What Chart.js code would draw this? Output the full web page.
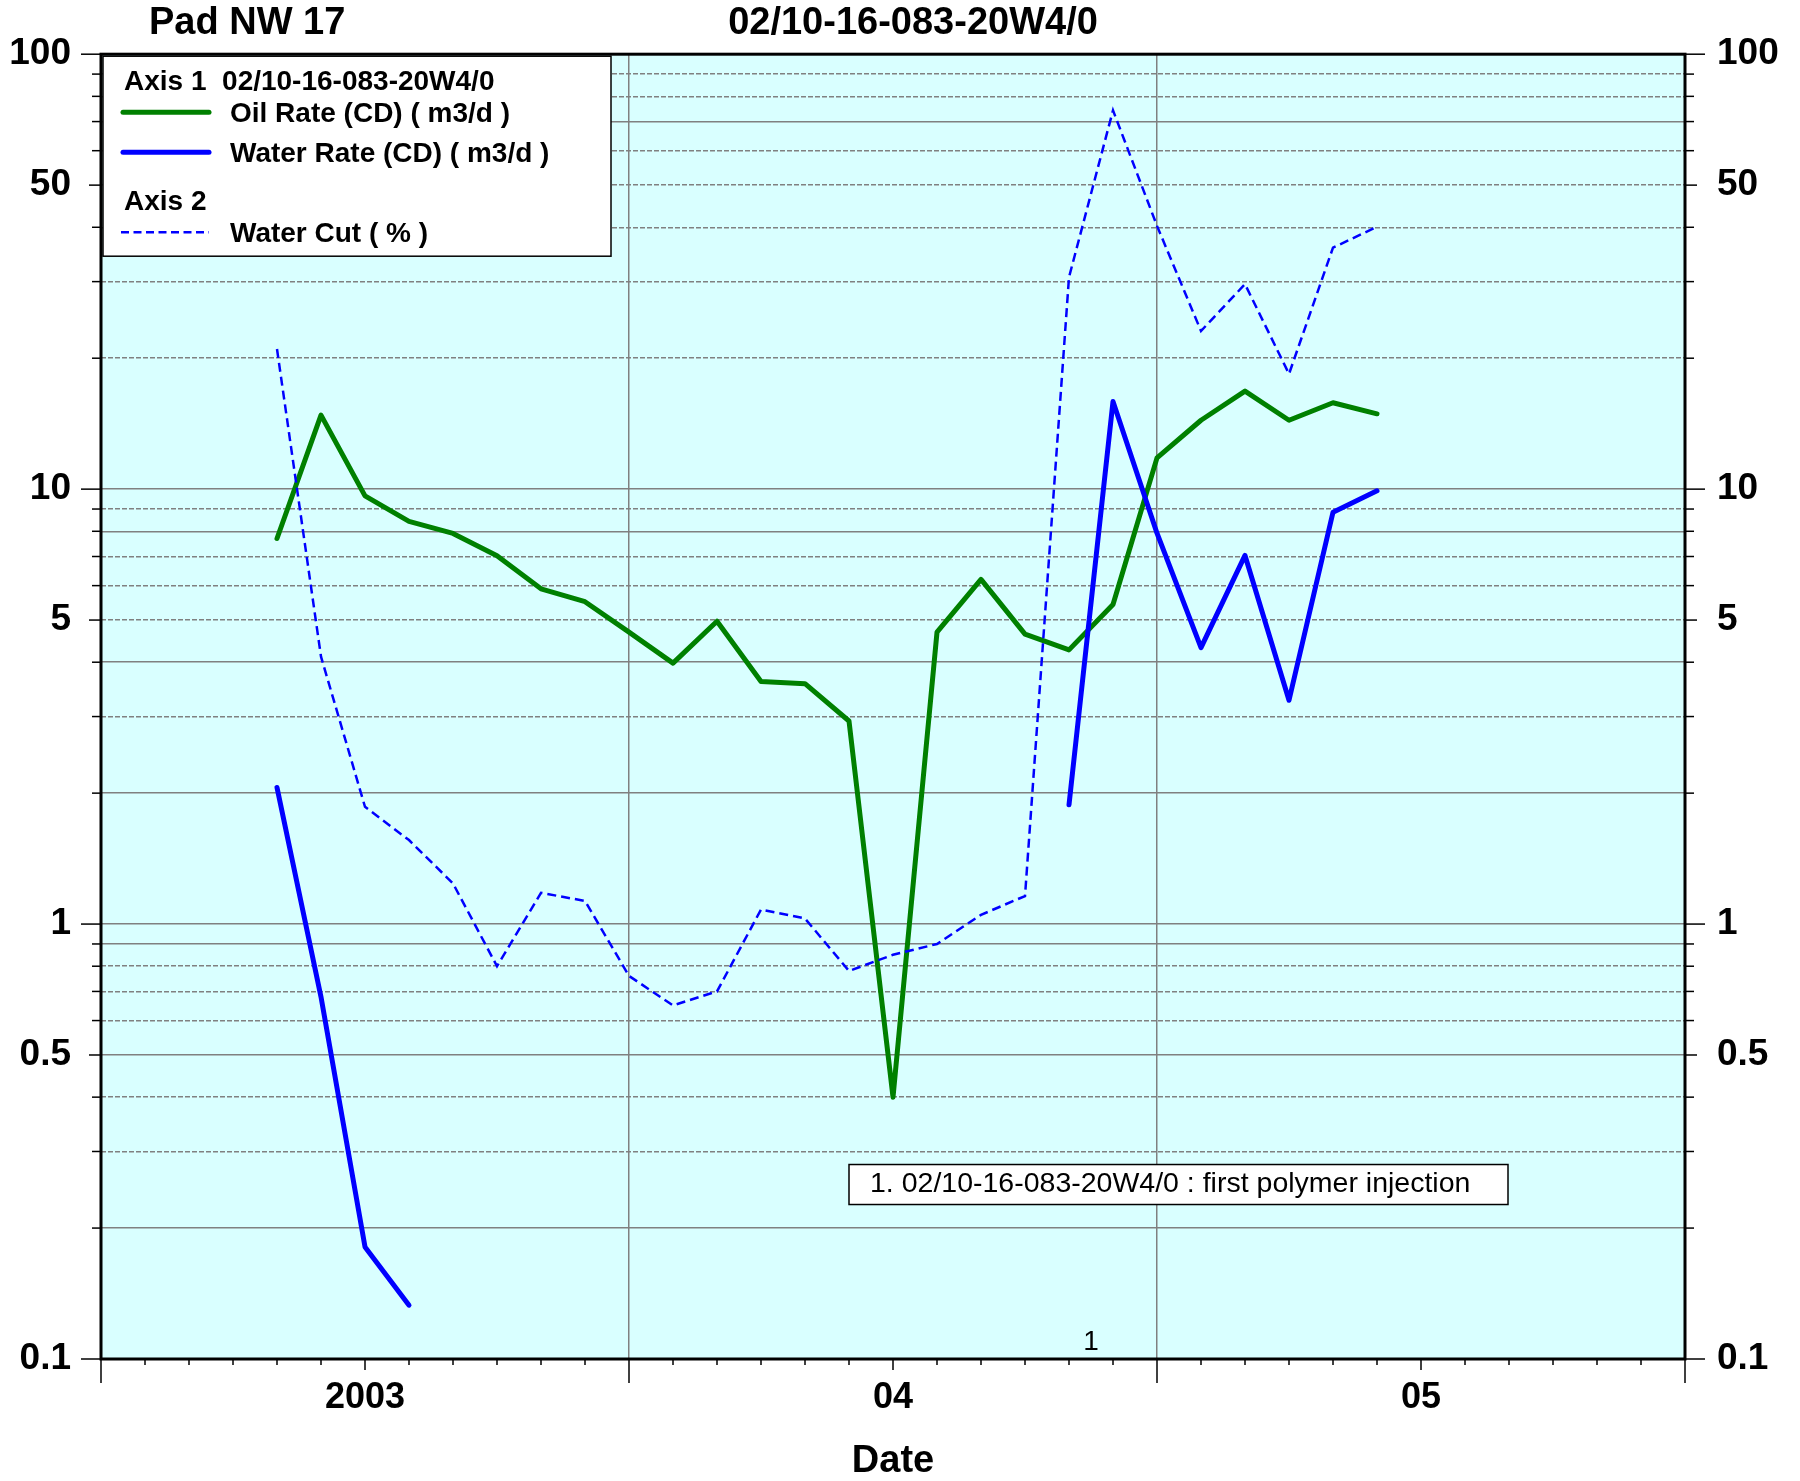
<!DOCTYPE html>
<html>
<head>
<meta charset="utf-8">
<title>Pad NW 17 - 02/10-16-083-20W4/0</title>
<script src="https://cdn.jsdelivr.net/npm/chart.js@4.4.1/dist/chart.umd.min.js"></script>
<style>
  html, body { margin: 0; padding: 0; background: #fff; }
  #chart { display: block; }
</style>
</head>
<body>
<canvas id="chart" width="1800" height="1481"></canvas>
<script>
'use strict';

// ── Data (monthly) ────────────────────────────────────────────────
const MONTHS = [
  '2002-11', '2002-12',
  '2003-01', '2003-02', '2003-03', '2003-04', '2003-05', '2003-06',
  '2003-07', '2003-08', '2003-09', '2003-10', '2003-11', '2003-12',
  '2004-01', '2004-02', '2004-03', '2004-04', '2004-05', '2004-06',
  '2004-07', '2004-08', '2004-09', '2004-10', '2004-11', '2004-12',
];

// Axis 1, m3/d
const OIL_RATE = [
  7.70, 14.8,
  9.65, 8.43, 7.91, 7.03, 5.90, 5.51,
  4.69, 3.98, 4.97, 3.61, 3.57, 2.93,
  0.40, 4.69, 6.20, 4.64, 4.27, 5.43,
  11.8, 14.4, 16.8, 14.4, 15.8, 14.9,
];
const WATER_RATE = [
  2.06, 0.68,
  0.181, 0.133, null, null, null, null,
  null, null, null, null, null, null,
  null, null, null, null, 1.88, 15.9,
  7.92, 4.32, 7.04, 3.27, 8.85, 9.91,
];

// Axis 2, %
const WATER_CUT = [
  21.0, 4.12,
  1.86, 1.56, 1.24, 0.80, 1.18, 1.13,
  0.76, 0.65, 0.70, 1.08, 1.03, 0.78,
  0.85, 0.90, 1.05, 1.16, 30.7, 74.3,
  40.3, 23.1, 29.6, 18.4, 35.9, 40.1,
];

const AXIS_START = '2002-07';
const AXIS_END   = '2005-07';
const X_LABELS   = { '2003-01': '2003', '2004-01': '04', '2005-01': '05' };

const Y_MIN = 0.1;
const Y_MAX = 100;
const Y_TICKS = [
  0.1, 0.2, 0.3, 0.4, 0.5, 0.6, 0.7, 0.8, 0.9,
  1, 2, 3, 4, 5, 6, 7, 8, 9,
  10, 20, 30, 40, 50, 60, 70, 80, 90, 100,
];
const Y_LABELS = [0.1, 0.5, 1, 5, 10, 50, 100];

const EVENT_MONTH = 22.5;   // mid May 2004, months after AXIS_START
const EVENT_LABEL = '1';
const EVENT_NOTE  = '1. 02/10-16-083-20W4/0 : first polymer injection';

// ── Styles / layout ──────────────────────────────────────────────
const FONT       = "'Liberation Sans', Arial, Helvetica, sans-serif";
const GREEN      = '#008000';
const BLUE       = '#0000ff';
const GRID_GRAY  = '#808080';
const PLOT_BG    = '#d9ffff';
const SOLID_GRID = [0.2, 0.5, 0.9, 1, 2, 4, 8, 10, 70];

const LAYOUT = {
  top: 53, leftAxis: 101, rightAxis: 115, bottomAxis: 122,
  legend: { dx: 2, dy: 2, w: 508, h: 200 },
  note:   { x: 17.0, y: 0.28, w: 659, h: 40 },
};

// ── Helpers ──────────────────────────────────────────────────────
function monthsFrom(start, ym) {
  const [y0, m0] = start.split('-').map(Number);
  const [y, m] = ym.split('-').map(Number);
  return (y - y0) * 12 + (m - m0);
}

const X_MAX = monthsFrom(AXIS_START, AXIS_END);

function points(values) {
  return MONTHS.map((m, i) => ({ x: monthsFrom(AXIS_START, m), y: values[i] }));
}

function xLabel(value) {
  const key = Object.keys(X_LABELS).find(k => monthsFrom(AXIS_START, k) === value);
  return key ? X_LABELS[key] : '';
}

function yLabel(value) {
  return Y_LABELS.includes(value) ? String(value) : '';
}

function line(ctx, x1, y1, x2, y2) {
  ctx.beginPath();
  ctx.moveTo(x1, y1);
  ctx.lineTo(x2, y2);
  ctx.stroke();
}

function yAxis(position, width, padding) {
  return {
    type: 'logarithmic',
    position,
    min: Y_MIN,
    max: Y_MAX,
    afterFit: s => { s.width = width; },
    afterBuildTicks: s => { s.ticks = Y_TICKS.map(v => ({ value: v })); },
    ticks: {
      autoSkip: false,
      padding,
      color: '#000',
      font: { family: FONT, size: 37, weight: 'bold' },
      callback: yLabel,
    },
    grid: {
      drawTicks: false,
      drawOnChartArea: position === 'left',
      lineWidth: 1.5,
      color: c => (c.tick && (c.tick.value === Y_MIN || c.tick.value === Y_MAX)) ? 'rgba(0,0,0,0)' : GRID_GRAY,
    },
    border: {
      display: false,
      dash: c => (c.tick && !SOLID_GRID.includes(c.tick.value)) ? [5, 2] : [],
    },
  };
}

// ── Decoration plugin: background, frame, tick marks, texts ──────
const decor = {
  id: 'decor',
  beforeDraw(chart) {
    const { ctx, chartArea: a } = chart;
    ctx.save();
    ctx.fillStyle = PLOT_BG;
    ctx.fillRect(a.left, a.top, a.right - a.left, a.bottom - a.top);
    ctx.restore();
  },
  afterDraw(chart) {
    const { ctx, chartArea: a, scales } = chart;
    const xs = scales.x, ys = scales.y;
    ctx.save();

    // tick marks
    ctx.strokeStyle = '#000';
    ctx.lineWidth = 1.5;
    for (let m = 0; m <= X_MAX; m++) {
      const px = xs.getPixelForValue(m);
      const len = m % 12 === 0 ? 24 : (m % 12 === 6 ? 11 : 6);
      line(ctx, px, a.bottom, px, a.bottom + len);
    }
    Y_TICKS.forEach(v => {
      const py = ys.getPixelForValue(v);
      const lead = Math.round(v / Math.pow(10, Math.floor(Math.log10(v) + 1e-9)));
      const len = lead === 1 ? 20 : (lead === 5 ? 12 : 9);
      line(ctx, a.left - len, py, a.left, py);
      line(ctx, a.right, py, a.right + len, py);
    });

    // frame
    ctx.lineWidth = 3;
    ctx.strokeRect(a.left, a.top, a.right - a.left, a.bottom - a.top);

    // titles
    ctx.fillStyle = '#000';
    ctx.textBaseline = 'middle';
    ctx.font = `bold 38px ${FONT}`;
    ctx.textAlign = 'left';
    ctx.fillText('Pad NW 17', 149, 24);
    ctx.textAlign = 'center';
    ctx.fillText('02/10-16-083-20W4/0', 913, 24);

    // event marker + note
    ctx.font = `28px ${FONT}`;
    ctx.fillText(EVENT_LABEL, xs.getPixelForValue(EVENT_MONTH), a.bottom - 17);
    const nx = xs.getPixelForValue(LAYOUT.note.x);
    const ny = ys.getPixelForValue(LAYOUT.note.y);
    ctx.fillStyle = '#fff';
    ctx.fillRect(nx, ny, LAYOUT.note.w, LAYOUT.note.h);
    ctx.lineWidth = 1.5;
    ctx.strokeRect(nx, ny, LAYOUT.note.w, LAYOUT.note.h);
    ctx.fillStyle = '#000';
    ctx.textAlign = 'left';
    ctx.font = `28.5px ${FONT}`;
    ctx.fillText(EVENT_NOTE, nx + 21, ny + LAYOUT.note.h / 2);

    // legend
    const L = LAYOUT.legend;
    const lx = a.left + L.dx, ly = a.top + L.dy;
    ctx.fillStyle = '#fff';
    ctx.fillRect(lx, ly, L.w, L.h);
    ctx.lineWidth = 1.5;
    ctx.strokeRect(lx, ly, L.w, L.h);
    ctx.fillStyle = '#000';
    ctx.font = `bold 28px ${FONT}`;
    ctx.fillText('Axis 1  02/10-16-083-20W4/0', lx + 21, ly + 26);
    ctx.fillText('Oil Rate (CD) ( m3/d )', lx + 127, ly + 58);
    ctx.fillText('Water Rate (CD) ( m3/d )', lx + 127, ly + 98);
    ctx.fillText('Axis 2', lx + 21, ly + 146);
    ctx.fillText('Water Cut ( % )', lx + 127, ly + 178);
    ctx.lineCap = 'round';
    ctx.lineWidth = 5;
    ctx.strokeStyle = GREEN;
    line(ctx, lx + 20, ly + 56, lx + 106, ly + 56);
    ctx.strokeStyle = BLUE;
    line(ctx, lx + 20, ly + 96, lx + 106, ly + 96);
    ctx.lineCap = 'butt';
    ctx.lineWidth = 2.5;
    ctx.setLineDash([8, 4.5]);
    line(ctx, lx + 18, ly + 176, lx + 106, ly + 176);
    ctx.restore();
  },
};

// ── Chart ────────────────────────────────────────────────────────
new Chart(document.getElementById('chart').getContext('2d'), {
  type: 'line',
  data: {
    datasets: [
      {
        label: 'Water Rate (CD) ( m3/d )',
        data: points(WATER_RATE),
        yAxisID: 'y',
        borderColor: BLUE,
        borderWidth: 5,
        borderCapStyle: 'round',
        borderJoinStyle: 'round',
        spanGaps: false,
      },
      {
        label: 'Water Cut ( % )',
        data: points(WATER_CUT),
        yAxisID: 'y2',
        borderColor: BLUE,
        borderWidth: 2.5,
        borderDash: [9, 5],
      },
      {
        label: 'Oil Rate (CD) ( m3/d )',
        data: points(OIL_RATE),
        yAxisID: 'y',
        borderColor: GREEN,
        borderWidth: 5,
        borderCapStyle: 'round',
        borderJoinStyle: 'round',
      },
    ],
  },
  options: {
    responsive: false,
    animation: false,
    devicePixelRatio: 1,
    elements: {
      point: { radius: 0, hoverRadius: 0 },
      line: { tension: 0, fill: false },
    },
    layout: { padding: { top: LAYOUT.top, left: 0, right: 0, bottom: 0 } },
    plugins: {
      legend:  { display: false },
      tooltip: { enabled: false },
      title:   { display: false },
    },
    scales: {
      x: {
        type: 'linear',
        min: 0,
        max: X_MAX,
        afterFit: s => { s.height = LAYOUT.bottomAxis; },
        afterBuildTicks: s => {
          s.ticks = Array.from({ length: X_MAX + 1 }, (_, i) => ({ value: i }));
        },
        ticks: {
          autoSkip: false,
          maxRotation: 0,
          padding: 17,
          color: '#000',
          font: { family: FONT, size: 36, weight: 'bold' },
          callback: xLabel,
        },
        grid: {
          drawTicks: false,
          lineWidth: 1.5,
          color: c => (c.tick && c.tick.value % 12 === 0 && c.tick.value > 0 && c.tick.value < X_MAX)
            ? GRID_GRAY : 'rgba(0,0,0,0)',
        },
        border: { display: false },
        title: {
          display: true,
          text: 'Date',
          color: '#000',
          font: { family: FONT, size: 38, weight: 'bold' },
          padding: { top: 0, bottom: -3 },
        },
      },
      y:  yAxis('left', LAYOUT.leftAxis, 30),
      y2: yAxis('right', LAYOUT.rightAxis, 32),
    },
  },
  plugins: [decor],
});
</script>
</body>
</html>
